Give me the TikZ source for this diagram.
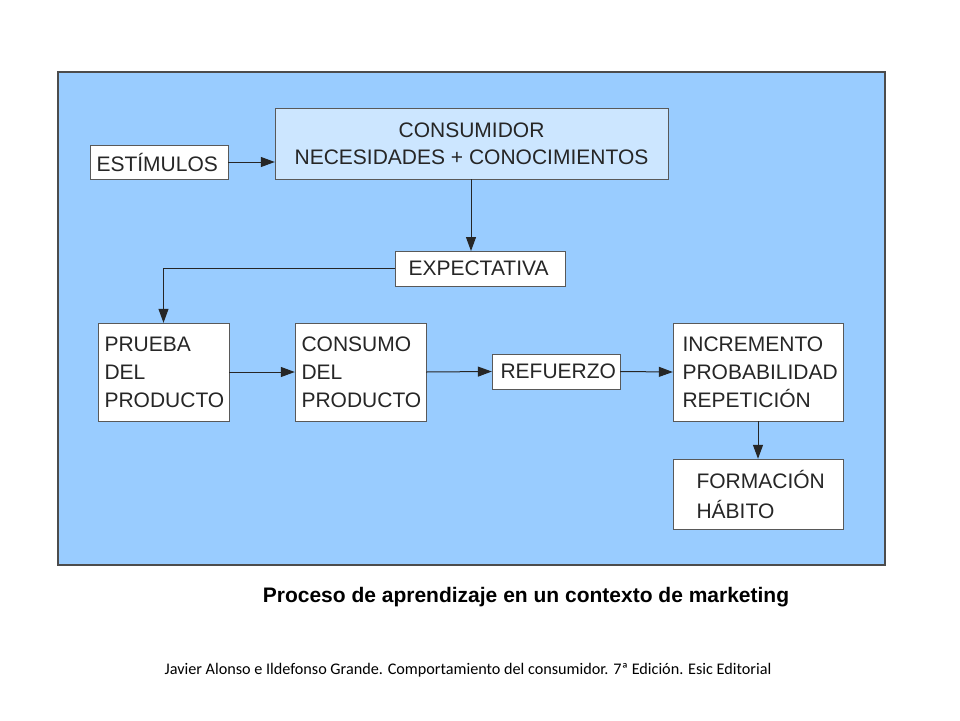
\documentclass[tikz,border=0pt]{standalone}
\usepackage{fontspec}
\setmainfont{Liberation Sans}
\newfontfamily\citefont{Carlito}
\usetikzlibrary{arrows.meta}
\definecolor{panel}{HTML}{99CCFF}
\definecolor{light}{HTML}{CCE6FF}
\definecolor{txt}{HTML}{262626}
\tikzset{
 bx/.style={draw=gray!70!black, fill=white, line width=0.8pt},
 lbl/.style={font=\fontsize{21}{24}\selectfont, text=txt, align=left, anchor=west},
 arr/.style={-{Triangle[length=14pt,width=10pt]}, line width=1pt, draw=black!85}
}
\begin{document}
\begin{tikzpicture}[x=1pt,y=-1pt]
\useasboundingbox (0,0) rectangle (960,720);
\fill[white] (0,0) rectangle (960,720);
\draw[fill=panel, draw=gray!60!black, line width=1.2pt] (58,72) rectangle (885,565);
\draw[bx, fill=light] (275,108) rectangle (668,179);
\node (cons) at (471.5,143.5) [minimum width=393pt, minimum height=71pt, inner sep=0] {};
\node[font=\fontsize{21}{27}\selectfont, text=txt, align=center] at (471.5,143.5) {CONSUMIDOR\\NECESIDADES + CONOCIMIENTOS};
\draw[bx] (90,145) rectangle (228,179);
\node (est) at (159,162) [minimum width=138pt, minimum height=34pt, inner sep=0] {};
\node[lbl] at (93,162) {ESTÍMULOS};
\draw[bx] (395,251) rectangle (565,286);
\node (exp) at (480,268.5) [minimum width=170pt, minimum height=35pt, inner sep=0] {};
\node[lbl] at (405,268.5) {EXPECTATIVA};
\draw[bx] (98,323) rectangle (229,421);
\node (pru) at (163.5,372) [minimum width=131pt, minimum height=98pt, inner sep=0] {};
\node[lbl, font=\fontsize{21}{28}\selectfont] at (101,372) {PRUEBA\\DEL\\PRODUCTO};
\draw[bx] (295,323) rectangle (426,421);
\node (con) at (360.5,372) [minimum width=131pt, minimum height=98pt, inner sep=0] {};
\node[lbl, font=\fontsize{21}{28}\selectfont] at (298,372) {CONSUMO\\DEL\\PRODUCTO};
\draw[bx] (492,354) rectangle (620,389);
\node (ref) at (556,371.5) [minimum width=128pt, minimum height=35pt, inner sep=0] {};
\node[lbl] at (497,371.5) {REFUERZO};
\draw[bx] (673,323) rectangle (843,421);
\node (inc) at (758,372) [minimum width=170pt, minimum height=98pt, inner sep=0] {};
\node[lbl, font=\fontsize{21}{28}\selectfont] at (679,372) {INCREMENTO\\PROBABILIDAD\\REPETICIÓN};
\draw[bx] (673,459) rectangle (843,529);
\node (for) at (758,494) [minimum width=170pt, minimum height=70pt, inner sep=0] {};
\node[lbl, font=\fontsize{21}{30}\selectfont] at (693,494) {FORMACIÓN\\HÁBITO};
\draw[arr] (est.east) -- (cons.west |- est.east);
\draw[arr] (471,179) -- (471,251);
\draw[arr] (exp.west) -| (pru.north);
\draw[arr] (pru.east) -- (con.west);
\draw[arr] (con.east) -- (ref.west);
\draw[arr] (ref.east) -- (inc.west);
\draw[arr] (inc.south) -- (for.north);
\node (title) at (526,597) {\bfseries\fontsize{21}{24}\selectfont Proceso de aprendizaje en un contexto de marketing};
\node (cite) at (468,670) {\citefont\fontsize{16.2}{19}\selectfont Javier Alonso e Ildefonso Grande. Comportamiento del consumidor. 7ª Edición. Esic Editorial};
\end{tikzpicture}
\end{document}
